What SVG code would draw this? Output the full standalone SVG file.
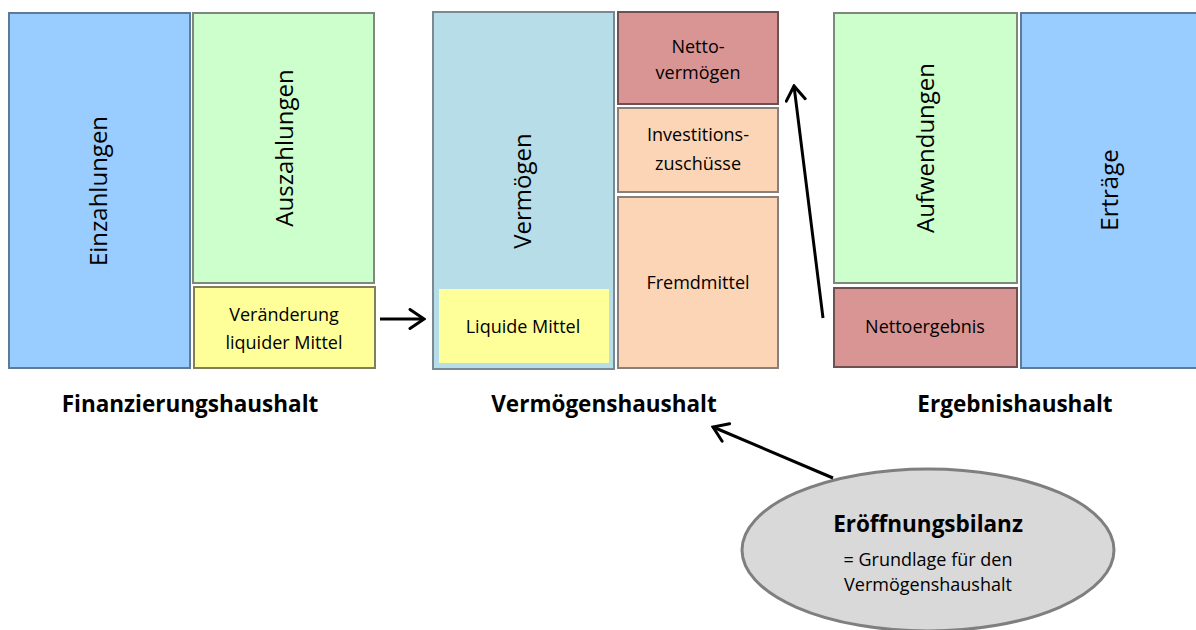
<svg xmlns="http://www.w3.org/2000/svg" width="1196" height="630" viewBox="0 0 1196 630">
<defs>
<style>
text{font-family:"Open Sans","Liberation Sans",sans-serif;fill:#000;text-anchor:middle}
.big{font-size:24px}
.sm{font-size:18px}
.hd{font-size:22.5px;font-weight:bold}
.box{stroke-width:2}
.conn{stroke:#000;stroke-width:3;fill:none}
</style>
<marker id="ah" markerUnits="userSpaceOnUse" viewBox="-16 -11 18 22" refX="0" refY="0" markerWidth="18" markerHeight="22" orient="auto">
<path d="M-14,-9.5 L0,0 L-14,9.5" fill="none" stroke="#000" stroke-width="3" stroke-linejoin="miter" stroke-linecap="round"/>
</marker>
</defs>
<rect width="1196" height="630" fill="#fff"/>

<g id="einzahlungen">
<rect class="box" x="9" y="13" width="181" height="355" fill="#99ccff" stroke="#5f7a96"/>
<text class="big" transform="translate(107,191) rotate(-90)">Einzahlungen</text>
</g>
<g id="auszahlungen">
<rect class="box" x="193" y="13" width="181" height="270" fill="#ccffcc" stroke="#7f877f"/>
<text class="big" transform="translate(293,148) rotate(-90)">Auszahlungen</text>
</g>
<g id="veraenderung">
<rect class="box" x="194" y="287" width="181" height="81" fill="#ffff99" stroke="#7f7f5a"/>
<text class="sm" x="284" y="321">Veränderung</text>
<text class="sm" x="284" y="349">liquider Mittel</text>
</g>
<text id="finanzierungshaushalt" class="hd" x="190" y="412">Finanzierungshaushalt</text>

<g id="vermoegen">
<rect class="box" x="433" y="12" width="181" height="357" fill="#b7dde8" stroke="#7a8a94"/>
<text class="big" transform="translate(531,191) rotate(-90)">Vermögen</text>
</g>
<g id="liquide">
<rect x="439" y="289" width="170" height="74" fill="#ffff99"/>
<text class="sm" x="523" y="333">Liquide Mittel</text>
</g>
<g id="nettovermoegen">
<rect class="box" x="618" y="12" width="160" height="92" fill="#d99594" stroke="#6e5050"/>
<text class="sm" x="698" y="53">Netto-</text>
<text class="sm" x="698" y="79">vermögen</text>
</g>
<g id="investitionszuschuesse">
<rect class="box" x="618" y="108" width="160" height="84" fill="#fbd5b5" stroke="#8a7f7a"/>
<text class="sm" x="698" y="141">Investitions-</text>
<text class="sm" x="698" y="170">zuschüsse</text>
</g>
<g id="fremdmittel">
<rect class="box" x="618" y="197" width="160" height="171" fill="#fbd5b5" stroke="#8a7f7a"/>
<text class="sm" x="698" y="289">Fremdmittel</text>
</g>
<text id="vermoegenshaushalt" class="hd" x="604" y="412">Vermögenshaushalt</text>

<g id="aufwendungen">
<rect class="box" x="834" y="13" width="183" height="270" fill="#ccffcc" stroke="#7f877f"/>
<text class="big" transform="translate(934,148) rotate(-90)">Aufwendungen</text>
</g>
<g id="nettoergebnis">
<rect class="box" x="834" y="288" width="183" height="79" fill="#d99594" stroke="#6e5050"/>
<text class="sm" x="925" y="333">Nettoergebnis</text>
</g>
<g id="ertraege">
<rect class="box" x="1021" y="13" width="185" height="355" fill="#99ccff" stroke="#5f7a96"/>
<text class="big" transform="translate(1118,190) rotate(-90)">Erträge</text>
</g>
<text id="ergebnishaushalt" class="hd" x="1015" y="412">Ergebnishaushalt</text>

<g id="eroeffnungsbilanz">
<ellipse cx="928" cy="550" rx="186" ry="81" fill="#d9d9d9" stroke="#7f7f7f" stroke-width="3"/>
<text class="hd" x="928" y="532">Eröffnungsbilanz</text>
<text class="sm" x="928" y="566">= Grundlage für den</text>
<text class="sm" x="928" y="591">Vermögenshaushalt</text>
</g>

<g id="connectors">
<line class="conn" x1="380" y1="319" x2="424" y2="319" marker-end="url(#ah)"/>
<line class="conn" x1="823" y1="318" x2="794" y2="86" marker-end="url(#ah)"/>
<line class="conn" x1="833" y1="478" x2="713" y2="427" marker-end="url(#ah)"/>
</g>
</svg>
